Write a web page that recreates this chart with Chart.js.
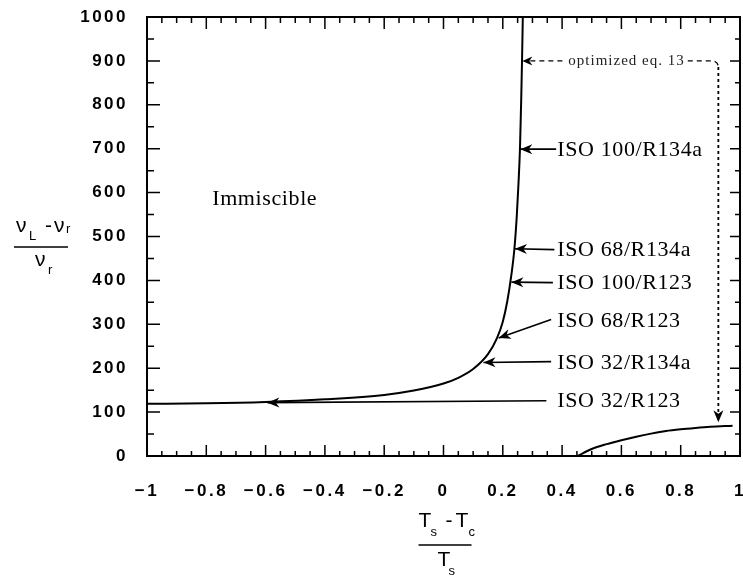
<!DOCTYPE html>
<html><head><meta charset="utf-8">
<script src="https://cdn.jsdelivr.net/npm/chart.js@4.4.1/dist/chart.umd.min.js"></script>
<style>html,body{margin:0;padding:0;background:#fff;}#wrap{width:743px;height:577px;position:relative;}</style>
</head><body><div id="wrap"><canvas id="c" width="743" height="577"></canvas></div>
<script>
// ---- data ----
const xTickValues = [-1, -0.8, -0.6, -0.4, -0.2, 0, 0.2, 0.4, 0.6, 0.8, 1];
const yTickValues = [0, 100, 200, 300, 400, 500, 600, 700, 800, 900, 1000];
const mainX = [-1, -0.8, -0.6, -0.4, -0.2, -0.1, 0, 0.05, 0.1, 0.15, 0.18, 0.2, 0.215, 0.229, 0.239, 0.247, 0.253, 0.258, 0.262, 0.265, 0.2675];
const mainY = [119, 120, 123, 129, 139, 149, 165, 178, 198, 232, 268, 306, 352, 413, 471, 545, 622, 702, 809, 906, 1000];
const lowerX = [0.452, 0.5, 0.55, 0.6, 0.65, 0.7, 0.75, 0.8, 0.85, 0.9, 0.975];
const lowerY = [0, 16, 27, 36, 44, 51, 57, 61, 64, 66.5, 69];
const labelTexts = ['ISO 100/R134a', 'ISO 68/R134a', 'ISO 100/R123', 'ISO 68/R123', 'ISO 32/R134a', 'ISO 32/R123'];
const labelY = [699, 470, 395, 310, 214, 127];
const arrowTipX = [0.259, 0.241, 0.229, 0.186, 0.135, -0.594];
const arrowTipY = [699, 472, 396, 269, 213, 121.5];
const arrowTailX = [0.380, 0.374, 0.369, 0.363, 0.363, 0.347];
const arrowTailY = [699, 470, 395, 311, 215, 126];
const labelLeftX = 0.384;
const noteText = 'optimized eq. 13';
const noteTip = [0.266, 900];
const noteDrop = [0.927, 77];
const regionText = 'Immiscible';
const regionAt = [-0.78, 584];

const fmtX = v => { const r = Math.round(v * 10) / 10; return r === 0 ? '0' : (r < 0 ? '\u2212' + Math.abs(r) : String(r)); };

function arrowHead(ctx, tx, ty, fx, fy, len, w) {
  const dx = tx - fx, dy = ty - fy, d = Math.hypot(dx, dy), ux = dx / d, uy = dy / d;
  const px = -uy, py = ux;
  const bx = tx - ux * len, by = ty - uy * len;
  const nx = tx - ux * len * 0.7, ny = ty - uy * len * 0.7;
  ctx.beginPath();
  ctx.moveTo(tx, ty);
  ctx.lineTo(bx + px * w, by + py * w);
  ctx.lineTo(nx, ny);
  ctx.lineTo(bx - px * w, by - py * w);
  ctx.closePath();
  ctx.fill();
}

const spacing = {
  id: 'spacing',
  beforeDraw(chart) { chart.ctx.letterSpacing = '2.5px'; },
  beforeDatasetsDraw(chart) { chart.ctx.letterSpacing = '0px'; }
};

const decor = {
  id: 'decor',
  afterDatasetsDraw(chart) {
    const { ctx, chartArea: a, scales: { x, y } } = chart;
    ctx.save();
    ctx.letterSpacing = '0px';
    ctx.strokeStyle = '#000'; ctx.fillStyle = '#000';
    ctx.lineWidth = 2;
    ctx.strokeRect(a.left, a.top, a.right - a.left, a.bottom - a.top);
    ctx.lineWidth = 1.5;
    ctx.beginPath();
    for (let i = 0; i < xTickValues.length; i++) {
      for (let k = 0; k < 4; k++) {
        if (i === xTickValues.length - 1 && k > 0) break;
        const v = xTickValues[i] + (k / 4) * 0.2;
        const px = x.getPixelForValue(v);
        const major = k === 0;
        ctx.moveTo(px, a.bottom); ctx.lineTo(px, a.bottom - (major ? 11 : 5));
        ctx.moveTo(px, a.top); ctx.lineTo(px, a.top + (major ? 12 : 6));
      }
    }
    for (let i = 0; i < yTickValues.length; i++) {
      for (let k = 0; k < 2; k++) {
        if (i === yTickValues.length - 1 && k > 0) break;
        const v = yTickValues[i] + k * 50;
        const py = y.getPixelForValue(v);
        const major = k === 0;
        ctx.moveTo(a.left, py); ctx.lineTo(a.left + (major ? 13 : 7), py);
        ctx.moveTo(a.right, py); ctx.lineTo(a.right - (major ? 10 : 5), py);
      }
    }
    ctx.stroke();

    ctx.lineWidth = 1.6;
    ctx.font = '22px "Liberation Serif"';
    ctx.letterSpacing = '0.6px';
    ctx.textBaseline = 'middle'; ctx.textAlign = 'left';
    for (let i = 0; i < labelTexts.length; i++) {
      const tx = x.getPixelForValue(arrowTipX[i]), ty = y.getPixelForValue(arrowTipY[i]);
      const fx = x.getPixelForValue(arrowTailX[i]), fy = y.getPixelForValue(arrowTailY[i]);
      ctx.beginPath(); ctx.moveTo(fx, fy); ctx.lineTo(tx, ty); ctx.stroke();
      arrowHead(ctx, tx, ty, fx, fy, 12, 5);
      ctx.fillText(labelTexts[i], x.getPixelForValue(labelLeftX), y.getPixelForValue(labelY[i]) + 1);
    }
    ctx.fillText(regionText, x.getPixelForValue(regionAt[0]), y.getPixelForValue(regionAt[1]));

    ctx.font = '15px "Liberation Serif"';
    ctx.letterSpacing = '1px';
    ctx.fillStyle = '#222';
    const nx = x.getPixelForValue(noteTip[0]), ny = y.getPixelForValue(noteTip[1]);
    const dx = x.getPixelForValue(noteDrop[0]), dy = y.getPixelForValue(noteDrop[1]);
    const tw = ctx.measureText(noteText).width;
    const textLeft = nx + 46;
    ctx.fillText(noteText, textLeft, ny);
    ctx.fillStyle = '#000';
    ctx.lineWidth = 1.3;
    ctx.setLineDash([5, 4]);
    ctx.beginPath(); ctx.moveTo(nx + 8, ny); ctx.lineTo(textLeft - 4, ny); ctx.stroke();
    const r = 6;
    ctx.beginPath();
    ctx.moveTo(textLeft + tw + 3, ny);
    ctx.lineTo(dx - r, ny);
    ctx.arcTo(dx, ny, dx, ny + r, r);
    ctx.stroke();
    ctx.setLineDash([3, 3]);
    ctx.lineWidth = 1.8;
    ctx.beginPath(); ctx.moveTo(dx, ny + r); ctx.lineTo(dx, dy - 8); ctx.stroke();
    ctx.setLineDash([]);
    arrowHead(ctx, nx, ny, nx + 20, ny, 10, 4.5);
    arrowHead(ctx, dx, dy, dx, dy - 20, 12, 5);

    ctx.letterSpacing = '0px';
    ctx.fillStyle = '#000';
    ctx.textBaseline = 'alphabetic';
    ctx.textAlign = 'left';
    const big = '21px "Liberation Sans"', small = '13px "Liberation Sans"';
    const yb = 247;
    ctx.font = big; ctx.fillText('\u03bd', 16, yb - 15);
    ctx.font = small; ctx.fillText('L', 29, yb - 7);
    ctx.font = big; ctx.fillText('-', 45, yb - 15);
    ctx.fillText('\u03bd', 54, yb - 15);
    ctx.font = small; ctx.fillText('r', 66, yb - 14);
    ctx.lineWidth = 1.5;
    ctx.beginPath(); ctx.moveTo(14, yb); ctx.lineTo(68, yb); ctx.stroke();
    ctx.font = big; ctx.fillText('\u03bd', 35, yb + 19);
    ctx.font = small; ctx.fillText('r', 48, yb + 27);
    const xb = 545, cx = x.getPixelForValue(0);
    ctx.font = big; ctx.fillText('T', cx - 25, xb - 18);
    ctx.font = small; ctx.fillText('s', cx - 13, xb - 9);
    ctx.font = big; ctx.fillText('-', cx + 2, xb - 18);
    ctx.fillText('T', cx + 12, xb - 18);
    ctx.font = small; ctx.fillText('c', cx + 25, xb - 9);
    ctx.beginPath(); ctx.moveTo(cx - 25, xb); ctx.lineTo(cx + 28, xb); ctx.stroke();
    ctx.font = big; ctx.fillText('T', cx - 6, xb + 21);
    ctx.font = small; ctx.fillText('s', cx + 5, xb + 30);
    ctx.restore();
  }
};

const zeroPad = s => { s.paddingLeft = 0; s.paddingRight = 0; s.paddingTop = 0; s.paddingBottom = 0; };

new Chart(document.getElementById('c'), {
  type: 'line',
  data: {
    datasets: [
      { data: mainX.map((v, i) => ({ x: v, y: mainY[i] })), borderColor: '#000', borderWidth: 2, pointRadius: 0, cubicInterpolationMode: 'monotone', fill: false },
      { data: lowerX.map((v, i) => ({ x: v, y: lowerY[i] })), borderColor: '#000', borderWidth: 2, pointRadius: 0, cubicInterpolationMode: 'monotone', fill: false }
    ]
  },
  options: {
    responsive: false, animation: false, devicePixelRatio: 1,
    layout: { padding: { top: 17, right: 3, left: 0, bottom: 0 } },
    plugins: { legend: { display: false }, tooltip: { enabled: false } },
    scales: {
      x: {
        type: 'linear', min: -1, max: 1,
        afterBuildTicks: s => { s.ticks = xTickValues.map(v => ({ value: v })); },
        afterFit: s => { s.height = 121; zeroPad(s); },
        grid: { display: false, drawTicks: false }, border: { display: false },
        ticks: { color: '#000', font: { family: '"Liberation Sans"', size: 17, weight: 'bold' }, padding: 25, maxRotation: 0, autoSkip: false, callback: v => fmtX(v) }
      },
      y: {
        type: 'linear', min: 0, max: 1000,
        afterBuildTicks: s => { s.ticks = yTickValues.map(v => ({ value: v })); },
        afterFit: s => { s.width = 147; zeroPad(s); },
        grid: { display: false, drawTicks: false }, border: { display: false },
        ticks: { color: '#000', font: { family: '"Liberation Sans"', size: 17, weight: 'bold' }, padding: 19, autoSkip: false, callback: v => String(v) }
      }
    }
  },
  plugins: [spacing, decor]
});
</script>
</body></html>
